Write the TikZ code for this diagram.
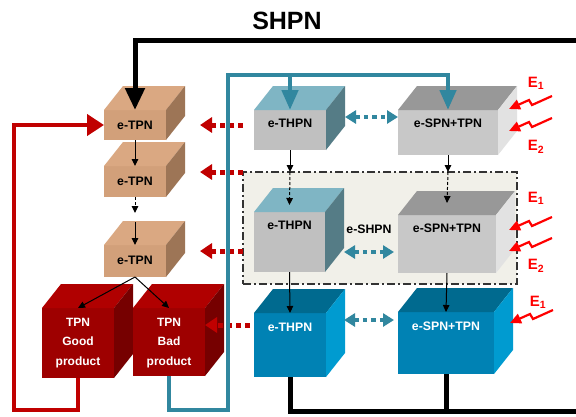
\documentclass[tikz,border=0pt]{standalone}
\usepackage{fontspec}
\setmainfont{Liberation Sans}
\usepackage{tikz}
\usetikzlibrary{arrows.meta}
\definecolor{tpnF}{HTML}{D2A07A}
\definecolor{tpnT}{HTML}{DAA882}
\definecolor{tpnS}{HTML}{9D7556}
\definecolor{prodF}{HTML}{9E0000}
\definecolor{prodT}{HTML}{B00000}
\definecolor{prodS}{HTML}{760000}
\definecolor{thpnF}{HTML}{C0C0C0}
\definecolor{thpnT}{HTML}{7FB5C4}
\definecolor{thpnS}{HTML}{557C86}
\definecolor{spnF}{HTML}{C8C8C8}
\definecolor{spnT}{HTML}{989898}
\definecolor{spnS}{HTML}{E2E2E2}
\definecolor{realF}{HTML}{0082B4}
\definecolor{realT}{HTML}{006A8F}
\definecolor{realS}{HTML}{009BD0}
\definecolor{tealline}{HTML}{31879F}
\definecolor{redline}{HTML}{C00000}
\definecolor{zapred}{HTML}{FF0000}
\definecolor{boxfill}{HTML}{F1F0E9}

% front face is the node, top and side are filled behind the text
\newcommand{\pncube}[6]{%
  \node[face, fill=#5F, minimum width=#3pt, minimum height=#4pt] (#1) at #2 {};
  \fill[#5T] (#1.north west) -- ++(19,-24) -- ++(#3,0) -- (#1.north east) -- cycle;
  \fill[#5S] (#1.north east) -- ++(19,-24) -- ++(0,#4) -- (#1.south east) -- cycle;
  \node[#5L] at (#1.north) {#6};
}

\begin{document}
\begin{tikzpicture}[
  x=1pt, y=-1pt,
  face/.style={inner sep=0pt, outer sep=0pt, anchor=north west},
  cubetext/.style={font=\bfseries\fontsize{12.3}{14}\selectfont, inner sep=0pt, align=center},
  tpnL/.style={cubetext, yshift=-15pt},
  prodL/.style={cubetext, text=white, font=\bfseries\fontsize{12}{19.5}\selectfont, yshift=-35pt},
  thpnL/.style={cubetext, yshift=-13pt},
  spnL/.style={cubetext, yshift=-13pt},
  realL/.style={cubetext, text=white, yshift=-14pt},
  arr/.style={-{Triangle[length=7pt,width=6.5pt]}, line width=1pt},
  dasharr/.style={arr, dash pattern=on 3pt off 2pt},
  shpnline/.style={line width=5pt, -{Triangle[length=22pt,width=19pt]}},
  thpnline/.style={line width=4.5pt, draw=tealline, -{Triangle[length=20pt,width=16pt]}},
  tpnline/.style={line width=4.5pt, draw=redline, -{Triangle[length=17pt,width=21pt]}},
  rdot/.style={draw=redline, line width=5pt, dash pattern=on 5pt off 4pt, -{Triangle[length=12pt,width=15pt]}},
  tdot/.style={draw=tealline, line width=4.5pt, dash pattern=on 4.5pt off 4pt,
    {Triangle[length=11pt,width=13pt]}-{Triangle[length=11pt,width=13pt]}},
  zap/.style={draw=zapred, line width=2.2pt, -{Triangle[length=11pt,width=10pt]}},
  elabel/.style={text=zapred, font=\bfseries\fontsize{15}{17}\selectfont, inner sep=0pt},
  ebox/.style={face, draw=black!80, fill=boxfill, line width=1.1pt, dash pattern=on 8pt off 3pt on 2pt off 3pt}
]
  \fill[white] (0,0) rectangle (576,416);
  \useasboundingbox (0,0) rectangle (576,416);

  \node[font=\bfseries\fontsize{25}{28}\selectfont] (title) at (287,21) {SHPN};

  \node[ebox, minimum width=274pt, minimum height=112pt] (ebox) at (243,172) {};
  \node[cubetext] (eshpn) at (369,229) {e-SHPN};

  \pncube{tpnA}{(104,110)}{62}{30}{tpn}{e-TPN}
  \pncube{tpnB}{(104,166)}{62}{31}{tpn}{e-TPN}
  \pncube{tpnC}{(104,245)}{62}{32}{tpn}{e-TPN}
  \pncube{good}{(42,308)}{72}{70}{prod}{TPN\\Good\\product}
  \pncube{bad}{(133,308)}{72}{68}{prod}{TPN\\Bad\\product}
  \pncube{thpnA}{(254,110)}{72}{40}{thpn}{e-THPN}
  \pncube{thpnB}{(254,212)}{71}{60}{thpn}{e-THPN}
  \pncube{thpnC}{(254,313)}{72}{64}{real}{e-THPN}
  \pncube{spnA}{(398,110)}{100}{45}{spn}{e-SPN+TPN}
  \pncube{spnB}{(398,215)}{98}{58}{spn}{e-SPN+TPN}
  \pncube{spnC}{(398,312)}{96}{62}{real}{e-SPN+TPN}

  % flow between the cubes
  \draw[arr] (tpnA.south) -- (tpnB.north);
  \draw[dasharr] (tpnB.south) -- ++(0,16);
  \draw[arr] ([yshift=23pt]tpnC.north) -- (tpnC.north);
  \draw[arr] (tpnC.south) -- (good.north);
  \draw[arr] (tpnC.south) -- (bad.north);
  \draw[arr] (thpnA.south) -- (thpnA.south |- ebox.north);
  \draw[dasharr] (thpnA.south |- ebox.north) -- ([yshift=7pt]thpnB.north);
  \draw[arr] (spnA.south) -- (spnA.south |- ebox.north);
  \draw[dasharr] (spnA.south |- ebox.north) -- ([yshift=12pt]spnB.north);
  \draw[arr] (thpnB.south) -- (thpnC.north);
  \draw[arr] (spnB.south) -- (spnC.north);

  % dotted links
  \draw[rdot] (ebox.west |- tpnA.east) -- ++(-43,0);
  \draw[rdot] (ebox.north west) -- ++(-43,0);
  \draw[rdot] ([yshift=10pt]ebox.west |- tpnC.east) -- ++(-43,0);
  \draw[rdot] ([shift={(-4,12)}]thpnC.north west) -- ++(-45,0);
  \draw[tdot] ([shift={(19,7)}]thpnA.north east) -- ([shift={(0,7)}]spnA.north west);
  \draw[tdot] ([shift={(19,40)}]thpnB.north east) -- ([shift={(-4,37)}]spnB.north west);
  \draw[tdot] ([shift={(18,7)}]thpnC.north east) -- ([shift={(-4,8)}]spnC.north west);

  % thick loops
  \coordinate (shpnIn) at (576,40);
  \coordinate (shpnOut) at (576,411);
  \draw[shpnline] (shpnIn) -| (tpnA.north);
  \draw[line width=5pt] (thpnC.south) |- (shpnOut);
  \draw[line width=5pt] (spnC.south) -- (spnC.south |- shpnOut);

  \coordinate (tealLow) at (228,410);
  \coordinate (tealTop) at (228,75);
  \draw[thpnline] (bad.south) |- (tealLow) -- (tealTop) -| (spnA.north);
  \draw[thpnline] (tealTop -| thpnA.north) -- (thpnA.north);

  \coordinate (redLow) at (14,410);
  \draw[tpnline] (good.south) |- (redLow) |- (tpnA.west);

  % disturbances
  \foreach \zx/\zy in {552/96, 552/118, 552/217, 552/238, 553/310}
    \draw[zap] (\zx,\zy) -- ++(-20,9) -- ++(-3,-5) -- ++(-20,9);
  \node[elabel] (eA1) at (536,83) {E\textsubscript{1}};
  \node[elabel] (eA2) at (536,147) {E\textsubscript{2}};
  \node[elabel] (eB1) at (536,198) {E\textsubscript{1}};
  \node[elabel] (eB2) at (536,266) {E\textsubscript{2}};
  \node[elabel] (eC1) at (538,302) {E\textsubscript{1}};
\end{tikzpicture}
\end{document}
